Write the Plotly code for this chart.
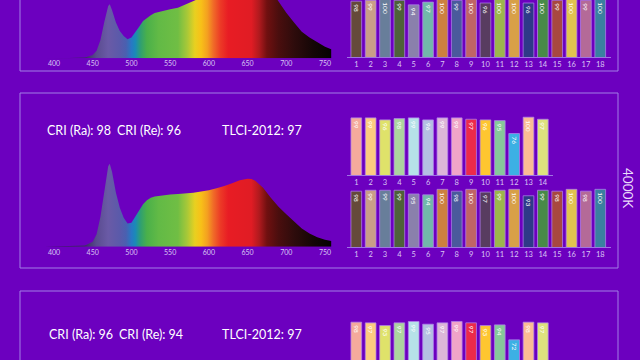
import plotly.graph_objects as go

W, H = 640, 360
BG = '#6c00bf'
FRAME = '#a27ee6'
AXIS_LINE = '#9f74e4'
TICK_COLOR = '#d9c6f4'
BAR_EDGE = 'rgba(176,128,236,0.75)'
FONT = 'Lato'

# ---------------- data ----------------
WAVELENGTH = [388, 400, 420, 440, 450, 455, 460, 465, 470, 472, 475, 480, 485, 490, 495,
              500, 505, 510, 515, 520, 525, 530, 540, 550, 560, 570, 580, 590, 600, 610,
              620, 630, 640, 650, 655, 660, 670, 680, 690, 700, 710, 720, 730, 740, 750, 758]
SPECTRUM_PANEL1 = [0.0, 0.005, 0.005, 0.01, 0.04, 0.09, 0.22, 0.44, 0.63, 0.65, 0.58, 0.43, 0.33,
                   0.27, 0.23, 0.25, 0.31, 0.38, 0.45, 0.49, 0.52, 0.545, 0.57, 0.59, 0.61, 0.65,
                   0.69, 0.72, 0.77, 0.83, 0.88, 0.93, 0.97, 1.0, 0.995, 0.98, 0.92, 0.82, 0.68,
                   0.55, 0.43, 0.32, 0.25, 0.19, 0.14, 0.11]
SPECTRUM_PANEL2 = [0.0, 0.005, 0.005, 0.015, 0.06, 0.15, 0.36, 0.68, 0.97, 1.0, 0.9, 0.65, 0.47,
                   0.35, 0.28, 0.29, 0.36, 0.44, 0.51, 0.56, 0.59, 0.605, 0.62, 0.63, 0.635, 0.64,
                   0.65, 0.665, 0.68, 0.705, 0.73, 0.765, 0.80, 0.82, 0.815, 0.795, 0.71, 0.59,
                   0.48, 0.39, 0.30, 0.22, 0.16, 0.115, 0.085, 0.07]
SPECTRUM_TICKS = [400, 450, 500, 550, 600, 650, 700, 750]

# wavelength -> colour stops for the spectrum fill
GRAD_NM = [388, 440, 455, 470, 485, 493, 500, 505, 512, 520, 535, 560, 572, 582, 590, 598,
           606, 615, 625, 655, 665, 675, 690, 710, 735, 758]
GRAD_HEX = ['#2a1a40', '#3a2e60', '#5a4c90', '#6a5aa6', '#5a5aaa', '#4a60b0', '#2878c4',
            '#1a8ab8', '#30a070', '#4ab04a', '#62ba46', '#70be44', '#a8c838', '#e8d020',
            '#f8c018', '#f4a020', '#f06a28', '#ec3a26', '#e81c24', '#e01c24', '#b01a1e',
            '#701010', '#4a0e0e', '#2e0c0c', '#140606', '#050202']

CRI_LABELS = [1, 2, 3, 4, 5, 6, 7, 8, 9, 10, 11, 12, 13, 14]
CRI_COLORS = ['#f4aa9c', '#fccb80', '#dfe26a', '#acd49e', '#b6e2e8', '#b4bfe2', '#dcb6d8',
              '#f0a4c8', '#ec2a4a', '#fec630', '#86c89a', '#3cb0e4', '#fbbc94', '#dde27e']
CRI_PANEL2 = [99, 99, 96, 98, 99, 96, 99, 99, 97, 96, 95, 76, 100, 97]
CRI_PANEL3 = [98, 97, 93, 97, 99, 95, 97, 99, 97, 93, 94, 72, 98, 97]

TLCI_LABELS = [1, 2, 3, 4, 5, 6, 7, 8, 9, 10, 11, 12, 13, 14, 15, 16, 17, 18]
TLCI_COLORS = ['#654a3a', '#c99e88', '#687e9a', '#4e6238', '#8a80ac', '#72b8aa', '#cc8040',
               '#4a5a9c', '#c06466', '#583c60', '#9cb64c', '#d8a048', '#2e3a88', '#488a48',
               '#a84840', '#e0c450', '#b46a98', '#3a80a0']
TLCI_PANEL1 = [98, 99, 100, 99, 94, 97, 100, 99, 100, 96, 100, 100, 96, 100, 99, 100, 99, 100]
TLCI_PANEL2 = [98, 99, 99, 99, 95, 94, 100, 98, 100, 97, 99, 100, 93, 99, 98, 100, 98, 100]

PANEL2_TEXT = ['CRI (Ra): 98', 'CRI (Re): 96', 'TLCI-2012: 97']
PANEL3_TEXT = ['CRI (Ra): 96', 'CRI (Re): 94', 'TLCI-2012: 97']
CCT_LABEL = '4000K'


# ---------------- helpers ----------------
def dx(a, b):
    return [a / W, b / W]


def dy(top, bottom):
    return [max(0.0, 1 - bottom / H), min(1.0, 1 - top / H)]


def px(v):
    return 1 - v / H


SPEC_PX_PER_UNIT = 83.0
CRI_BASE, CRI_SLOPE = 15.0, 0.68
TLCI_BASE, TLCI_SLOPE = 37.0, 0.92

g0, g1 = GRAD_NM[0], GRAD_NM[-1]
colorscale = [[(n - g0) / (g1 - g0), c] for n, c in zip(GRAD_NM, GRAD_HEX)]

fig = go.Figure()

# spectrum panels
spec_axes = [('x', 'y', SPECTRUM_PANEL1, 0, 58.3), ('x2', 'y2', SPECTRUM_PANEL2, 150, 246.7)]
layout_axes = {}
for i, (xa, ya, vals, top, base) in enumerate(spec_axes):
    fig.add_trace(go.Scatter(
        x=WAVELENGTH, y=vals, mode='lines', line=dict(width=0),
        fill='tozeroy',
        fillgradient=dict(type='horizontal', start=g0, stop=g1, colorscale=colorscale),
        hoverinfo='skip', showlegend=False, xaxis=xa, yaxis=ya))
    xn = 'xaxis' + ('' if xa == 'x' else xa[1:])
    yn = 'yaxis' + ('' if ya == 'y' else ya[1:])
    lo = 400 - (54 - 44) / 0.7743
    hi = 750 + (332 - 325) / 0.7743
    layout_axes[xn] = dict(domain=dx(44, 332), range=[lo, hi], anchor=ya,
                           tickvals=SPECTRUM_TICKS, showgrid=False, zeroline=False,
                           showline=False, ticks='', tickfont=dict(size=7, color=TICK_COLOR, family=FONT))
    layout_axes[yn] = dict(domain=dy(top, base), range=[0, (base - top) / SPEC_PX_PER_UNIT],
                           anchor=xa, visible=False)

# bar panels: (axis id, labels, values, colors, top px, baseline px, base, slope, show axis)
bar_specs = [
    (3, TLCI_LABELS, TLCI_PANEL1, TLCI_COLORS, 0, 57.3, TLCI_BASE, TLCI_SLOPE, True),
    (4, CRI_LABELS, CRI_PANEL2, CRI_COLORS, 100, 175.0, CRI_BASE, CRI_SLOPE, True),
    (5, TLCI_LABELS, TLCI_PANEL2, TLCI_COLORS, 185, 247.3, TLCI_BASE, TLCI_SLOPE, True),
    (6, CRI_LABELS, CRI_PANEL3, CRI_COLORS, 300, 378.6, CRI_BASE, CRI_SLOPE, False),
]
for k, labels, vals, cols, top, base_px, vbase, slope, show in bar_specs:
    xa, ya = 'x%d' % k, 'y%d' % k
    fig.add_trace(go.Bar(
        x=labels, y=vals, width=0.745,
        marker=dict(color=cols, line=dict(color=BAR_EDGE, width=1)),
        text=[str(v) for v in vals], textposition='inside', insidetextanchor='end',
        textangle=90, constraintext='none',
        textfont=dict(size=6.5, color='white', family=FONT),
        hoverinfo='skip', showlegend=False, xaxis=xa, yaxis=ya))
    n = len(labels)
    right = 553 if n == 14 else 611
    xlo = 1 - (356.3 - 347) / 14.35
    xhi = n + (right - (356.3 + 14.35 * (n - 1))) / 14.35
    bottom_px = min(base_px, H)
    vlo = vbase + (base_px - bottom_px) / slope
    vhi = vlo + (bottom_px - top) / slope
    layout_axes['xaxis%d' % k] = dict(domain=dx(347, right), range=[xlo, xhi], anchor=ya,
                                      tickvals=labels, showgrid=False, zeroline=False,
                                      showline=show, linecolor=AXIS_LINE, linewidth=1,
                                      ticks='', showticklabels=show,
                                      tickfont=dict(size=7.5, color=TICK_COLOR, family=FONT))
    layout_axes['yaxis%d' % k] = dict(domain=dy(top, bottom_px), range=[vlo, vhi],
                                      anchor=xa, visible=False)

# panel frames
shapes = []
for y0, y1 in [(-10, 71), (93, 268), (291, 380)]:
    shapes.append(dict(type='rect', xref='paper', yref='paper', x0=20 / W, x1=618 / W,
                       y0=px(y1), y1=px(y0), line=dict(color=FRAME, width=1),
                       fillcolor='rgba(0,0,0,0)', layer='below'))

annotations = []
for texts, ypx, xs in [(PANEL2_TEXT, 130.7, [45, 115, 220]), (PANEL3_TEXT, 334.3, [46.5, 116.5, 219.5])]:
    for t, xp in zip(texts, xs):
        annotations.append(dict(text=t, x=xp / W, y=px(ypx), xref='paper', yref='paper',
                                xanchor='left', yanchor='middle', showarrow=False,
                                font=dict(size=12.5, color='white', family=FONT)))
annotations.append(dict(text=CCT_LABEL, x=628 / W, y=px(188), xref='paper', yref='paper',
                        xanchor='center', yanchor='middle', showarrow=False, textangle=90,
                        font=dict(size=13.5, color='#eadcfb', family=FONT)))

fig.update_layout(width=W, height=H, margin=dict(l=0, r=0, t=0, b=0),
                  paper_bgcolor=BG, plot_bgcolor=BG, showlegend=False,
                  shapes=shapes, annotations=annotations, **layout_axes)

fig.write_html('out.html', config={'displayModeBar': False})

# remove the browser's default page margin so the figure sits at (0, 0)
with open('out.html', 'r', encoding='utf-8') as f:
    html = f.read()
html = html.replace('<head>', '<head><style>html,body{margin:0;padding:0;overflow:hidden;'
                    'background:%s;}</style>' % BG, 1)
with open('out.html', 'w', encoding='utf-8') as f:
    f.write(html)
